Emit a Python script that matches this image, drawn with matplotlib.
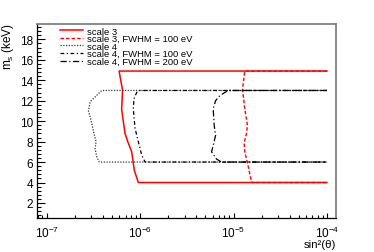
import matplotlib
matplotlib.use("Agg")
import matplotlib.pyplot as plt
from matplotlib.ticker import LogLocator, MultipleLocator, LogFormatterMathtext, NullFormatter

plt.rcParams['font.family'] = ['Liberation Sans', 'DejaVu Sans']
plt.rcParams['mathtext.fontset'] = 'custom'
plt.rcParams['mathtext.rm'] = 'Liberation Sans'
plt.rcParams['mathtext.it'] = 'Liberation Sans'

# contour data: sin^2(theta) vs m_s (keV)
s3_x = [1e-4, 5.96e-7, 6.5e-7, 6.35e-7, 6.56e-7, 6.9e-7, 7.38e-7, 8.13e-7, 8.67e-7, 9.57e-7, 1e-4]
s3_m = [14.9, 14.9, 13.0, 11.2, 10.2, 8.8, 8.0, 7.0, 5.2, 4.0, 4.0]

s3f_x = [1e-4, 1.32e-5, 1.25e-5, 1.32e-5, 1.41e-5, 1.38e-5, 1.30e-5, 1.32e-5, 1.43e-5, 1.56e-5, 1e-4]
s3f_m = [14.9, 14.9, 13.1, 11.2, 9.6, 8.8, 7.9, 7.0, 5.7, 4.0, 4.0]

s4_x = [1e-4, 3.89e-7, 2.92e-7, 2.80e-7, 3.0e-7, 3.21e-7, 3.38e-7, 3.3e-7, 3.44e-7, 3.66e-7, 1e-4]
s4_m = [13.0, 13.0, 11.9, 11.0, 10.0, 8.8, 8.0, 7.3, 6.5, 6.0, 6.0]

s4f1_x = [1e-4, 9.98e-7, 9.2e-7, 8.61e-7, 8.46e-7, 8.83e-7, 9.57e-7, 1.04e-6, 1.13e-6, 1e-4]
s4f1_m = [13.0, 13.0, 12.8, 12.2, 11.2, 9.3, 8.0, 6.7, 6.0, 6.0]

s4f2_x = [1e-4, 8.75e-6, 7.14e-6, 6.43e-6, 6.06e-6, 6.21e-6, 6.43e-6, 6.06e-6, 5.82e-6, 6.57e-6, 7.44e-6, 1e-4]
s4f2_m = [13.0, 13.0, 12.5, 12.0, 11.2, 9.6, 8.6, 7.6, 7.0, 6.3, 6.0, 6.0]

fig = plt.figure(figsize=(3.74, 2.53), dpi=100)
ax = fig.add_axes([37.3/374, 1-219.3/253, (336.3-37.3)/374, (219.3-25)/253])

ax.plot(s3_x, s3_m, color='red', lw=1.1, label='scale 3')
ax.plot(s3f_x, s3f_m, color='red', lw=1.0, ls=(0, (2.5, 1.5)), label='scale 3, FWHM = 100 eV')
ax.plot(s4_x, s4_m, color='#333333', lw=0.9, ls=(0, (1, 1.2)), label='scale 4')
ax.plot(s4f1_x, s4f1_m, color='black', lw=0.9, ls=(0, (3, 2, 1, 2)), label='scale 4, FWHM = 100 eV')
ax.plot(s4f2_x, s4f2_m, color='black', lw=0.9, ls=(0, (5, 2, 1, 2)), label='scale 4, FWHM = 200 eV')

ax.set_xscale('log')
ax.set_xlim(7.94e-8, 1.26e-4)
ax.set_ylim(0.5, 19.5)

ax.xaxis.set_major_locator(LogLocator(base=10))
ax.xaxis.set_minor_locator(LogLocator(base=10, subs=range(2, 10)))
ax.xaxis.set_major_formatter(LogFormatterMathtext())
ax.xaxis.set_minor_formatter(NullFormatter())
ax.yaxis.set_major_locator(MultipleLocator(2))
ax.yaxis.set_minor_locator(MultipleLocator(0.4))

ax.tick_params(axis='x', which='major', direction='in', length=3.6, width=0.8, labelsize=8.5, pad=5)
ax.tick_params(axis='x', which='minor', direction='in', length=2, width=0.8)
ax.tick_params(axis='y', which='major', direction='in', length=5.5, width=0.8, labelsize=8.5, pad=3)
ax.tick_params(axis='y', which='minor', direction='in', length=2.9, width=0.8)

for s in ['left', 'bottom']:
    ax.spines[s].set_color('black')
    ax.spines[s].set_linewidth(0.9)
for s in ['top', 'right']:
    ax.spines[s].set_color('#777777')
    ax.spines[s].set_linewidth(1.2)

ax.set_ylabel(r'm$_{\rm s}$ (keV)', fontsize=8.5, ha='right')
ax.yaxis.set_label_coords(-0.07, 1.01)
ax.set_xlabel('sin²(θ)', fontsize=8.2, ha='right', va='baseline')
ax.xaxis.set_label_coords(1.0, -0.150)

ax.legend(loc='upper left', bbox_to_anchor=(60/374, 1-27.5/253), bbox_transform=fig.transFigure,
          frameon=False, fontsize=6.8, labelspacing=-0.15, handlelength=2.4, handletextpad=0.5,
          borderpad=0, borderaxespad=0)

fig.savefig('out.png', dpi=100)
